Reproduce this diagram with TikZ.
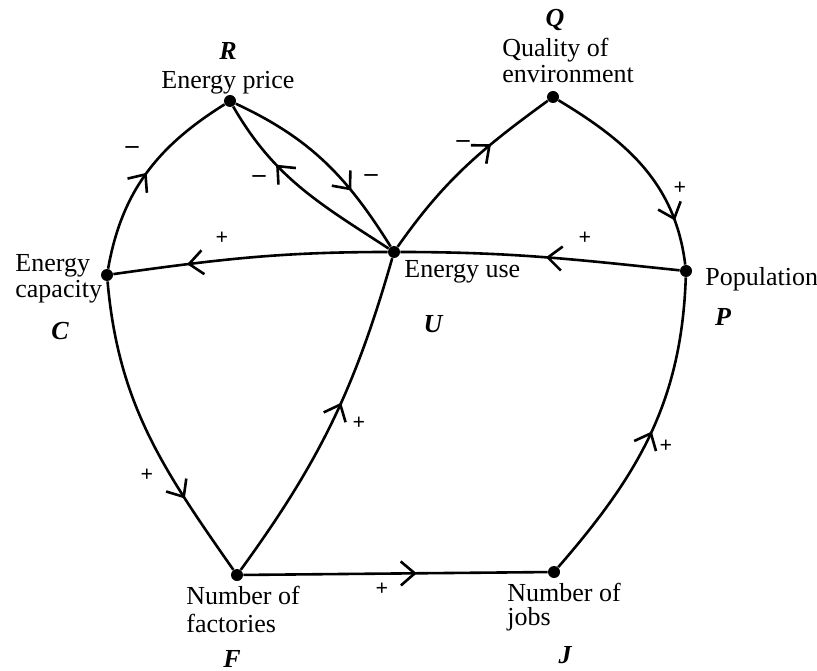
\documentclass[tikz,border=0pt]{standalone}
\usepackage{fontspec}
\setmainfont{Liberation Serif}
\usetikzlibrary{arrows.meta,decorations.markings}
\begin{document}
\begin{tikzpicture}[x=0.5pt,y=0.5pt,
  dot/.style={circle,fill,inner sep=0pt,minimum size=6pt},
  link/.style={line width=1.3pt},
  mid/.style={postaction={decorate},decoration={markings,mark=at position #1 with {\arrow{Straight Barb[length=7pt,width=12pt]}}}},
  lbl/.style={font=\fontsize{13}{14}\selectfont,inner sep=0pt,anchor=base west},
  clbl/.style={font=\fontsize{13}{14}\selectfont,inner sep=0pt,anchor=base},
  sym/.style={font=\fontsize{13}{14}\selectfont\bfseries\itshape,inner sep=0pt,anchor=base},
  sign/.style={font=\fontsize{11}{12}\selectfont\bfseries,inner sep=0pt},
  minus/.style={font=\fontsize{13}{14}\selectfont\bfseries,inner sep=0pt},
]
\useasboundingbox (0,0) rectangle (817,670);
% points
\node[dot] (R) at (230,569) {};
\node[dot] (Q) at (553,573) {};
\node[dot] (C) at (107,395) {};
\node[dot] (U) at (394,418) {};
\node[dot] (P) at (686,399) {};
\node[dot] (F) at (237,95) {};
\node[dot] (J) at (554,98) {};
% labels
\node[sym] (Rs) at (228,610) {R};
\node[clbl] (Rt) at (228,581) {Energy price};
\node[sym] (Qs) at (555,643) {Q};
\node[lbl] (Qt1) at (502,613) {Quality of};
\node[lbl] (Qt2) at (502,587) {environment};
\node[lbl] (Ct1) at (15,399) {Energy};
\node[lbl] (Ct2) at (15,373) {capacity};
\node[sym] (Cs) at (60,331) {C};
\node[lbl] (Ut) at (404,393) {Energy use};
\node[sym] (Us) at (433,338) {U};
\node[lbl] (Pt) at (705,385) {Population};
\node[sym] (Ps) at (723,345) {P};
\node[lbl] (Ft1) at (186,66) {Number of};
\node[lbl] (Ft2) at (186,38) {factories};
\node[sym] (Fs) at (232,3) {F};
\node[lbl] (Jt1) at (507,69) {Number of};
\node[lbl] (Jt2) at (507,45) {jobs};
\node[sym] (Js) at (565,7) {J};
% connectors
\draw[link,mid=0.5] (C) to[out=80,in=212] (R);
\draw[link,mid=0.68] (R) to[out=-25,in=122] (U);
\draw[link,mid=0.66] (U) to[out=147,in=-60] (R);
\draw[link,mid=0.73] (U) to[out=180,in=8] (C);
\draw[link,mid=0.66] (U) to[out=55,in=216] (Q);
\draw[link,mid=0.79] (Q) to[out=-31,in=97] (P);
\draw[link,mid=0.48] (P) to[out=174,in=0] (U);
\draw[link,mid=0.73] (C) to[out=-85,in=125] (F);
\draw[link,mid=0.56] (F) to[out=54,in=254] (U);
\draw[link,mid=0.57] (F) -- (J);
\draw[link,mid=0.51] (J) to[out=49,in=268] (P);
% signs
\node[minus] (s1) at (132,520) {–};
\node[minus] (s2) at (259,491) {–};
\node[minus] (s3) at (371,492) {–};
\node[sign] (s4) at (222,432) {+};
\node[minus] (s5) at (463,526) {–};
\node[sign] (s6) at (680,482) {+};
\node[sign] (s7) at (585,432) {+};
\node[sign] (s8) at (147,195) {+};
\node[sign] (s9) at (359,247) {+};
\node[sign] (s10) at (382,81) {+};
\node[sign] (s11) at (666,224) {+};
\end{tikzpicture}
\end{document}
